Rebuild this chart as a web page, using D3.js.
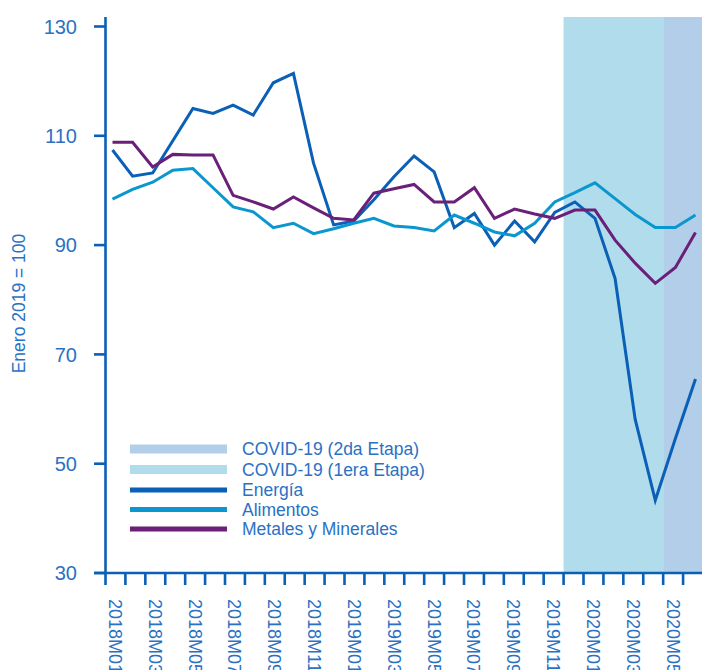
<!DOCTYPE html>
<html>
<head>
<meta charset="utf-8">
<script src="https://cdn.jsdelivr.net/npm/d3@7"></script>
<style>
  html,body{margin:0;padding:0;background:#fff;}
  svg{display:block;font-family:"Liberation Sans",Arial,Helvetica,sans-serif;}
</style>
</head>
<body>
<div id="chart"></div>
<script>
// months on the category axis
const months = [
  '2018M01','2018M02','2018M03','2018M04','2018M05','2018M06','2018M07','2018M08','2018M09','2018M10','2018M11','2018M12',
  '2019M01','2019M02','2019M03','2019M04','2019M05','2019M06','2019M07','2019M08','2019M09','2019M10','2019M11','2019M12',
  '2020M01','2020M02','2020M03','2020M04','2020M05','2020M06'
];
// index, Enero 2019 = 100
const energia = [107.4,102.6,103.2,109.1,115.0,114.1,115.6,113.8,119.7,121.4,105.0,93.7,94.4,98.3,102.5,106.3,
  103.4,93.2,95.8,90.0,94.4,90.6,96.0,97.9,94.9,83.9,58.1,43.3,54.6,65.5];
const alimentos = [98.4,100.2,101.5,103.7,104.0,100.5,97.0,96.1,93.2,94.0,92.1,93.0,94.0,94.9,93.5,93.2,
  92.6,95.5,94.0,92.4,91.7,94.0,97.9,99.6,101.4,98.5,95.6,93.2,93.2,95.5];
const metales = [108.8,108.8,104.3,106.6,106.5,106.5,99.1,97.9,96.6,98.8,96.8,94.9,94.6,99.5,100.3,101.1,
  97.9,97.9,100.5,94.9,96.6,95.7,94.9,96.4,96.4,90.9,86.7,83.0,85.9,92.3];
// shaded periods (first and last month covered)
const covidStages = [
  {name:'COVID-19 (1era Etapa)', from:'2019M12', to:'2020M04', color:'#b1dcec'},
  {name:'COVID-19 (2da Etapa)',  from:'2020M05', to:'2020M06', color:'#b3cee8'}
];
const yTicks = [30,50,70,90,110,130];

const series = [
  {name:'Energía', values:energia, color:'#0a5fb6'},
  {name:'Alimentos', values:alimentos, color:'#0a97cf'},
  {name:'Metales y Minerales', values:metales, color:'#6a1f78'}
];

const W=702, H=670;
const axisColor='#0a5fb6', textColor='#2a71c4';
const svg=d3.select('#chart').append('svg').attr('width',W).attr('height',H);

const xBand=d3.scaleBand().domain(months).range([105.5,703]).padding(0);
const xPt=d3.scalePoint().domain(months).range([112.5,695.5]);
const y=d3.scaleLinear().domain([30,130]).range([573,26.5]);
const plotTop=17;

// covid shading
svg.append('g').selectAll('rect').data(covidStages).join('rect')
  .attr('x',d=>xBand(d.from))
  .attr('y',plotTop)
  .attr('width',d=>xBand(d.to)+xBand.bandwidth()-xBand(d.from))
  .attr('height',y(30)-plotTop)
  .attr('fill',d=>d.color);

// lines
const line=d3.line().x((v,i)=>xPt(months[i])).y(v=>y(v));
svg.append('g').selectAll('path').data(series).join('path')
  .attr('d',d=>line(d.values))
  .attr('fill','none')
  .attr('stroke',d=>d.color)
  .attr('stroke-width',3)
  .attr('stroke-linejoin','miter');

// y axis
const yAxis=svg.append('g');
yAxis.append('line').attr('x1',105.5).attr('x2',105.5).attr('y1',plotTop).attr('y2',585)
  .attr('stroke',axisColor).attr('stroke-width',2.6);
yAxis.selectAll('line.tk').data(yTicks).join('line').attr('class','tk')
  .attr('x1',94).attr('x2',105.5).attr('y1',d=>y(d)).attr('y2',d=>y(d))
  .attr('stroke',axisColor).attr('stroke-width',2.6);
yAxis.selectAll('text').data(yTicks).join('text')
  .attr('x',77).attr('y',d=>y(d)).attr('dy','0.36em')
  .attr('text-anchor','end').attr('fill',textColor)
  .attr('font-size',20).text(d=>d);

svg.append('text')
  .attr('transform','translate(25,303.5) rotate(-90)')
  .attr('text-anchor','middle').attr('fill',textColor)
  .attr('font-size',17.5).text('Enero 2019 = 100');

// x axis
const xAxis=svg.append('g');
xAxis.append('line').attr('x1',94).attr('x2',W).attr('y1',y(30)).attr('y2',y(30))
  .attr('stroke',axisColor).attr('stroke-width',2.6);
const bounds=months.map(m=>xBand(m)).slice(1);
xAxis.selectAll('line.tk').data(bounds).join('line').attr('class','tk')
  .attr('x1',d=>d).attr('x2',d=>d).attr('y1',y(30)).attr('y2',585)
  .attr('stroke',axisColor).attr('stroke-width',2.6);
xAxis.selectAll('text').data(months.filter((m,i)=>i%2===0)).join('text')
  .attr('transform',d=>`translate(${xBand(d)+xBand.bandwidth()/2},599) rotate(90)`)
  .attr('dy','0.36em').attr('fill',textColor)
  .attr('font-size',18).text(d=>d);

// legend
const legendItems=[
  {name:covidStages[1].name, color:covidStages[1].color, h:9, y:449},
  {name:covidStages[0].name, color:covidStages[0].color, h:9, y:469.5},
  {name:series[0].name, color:series[0].color, h:5, y:490},
  {name:series[1].name, color:series[1].color, h:5, y:509.5},
  {name:series[2].name, color:series[2].color, h:5, y:529}
];
const lg=svg.append('g').selectAll('g').data(legendItems).join('g');
lg.append('rect').attr('x',130).attr('width',97)
  .attr('y',d=>d.y-d.h/2).attr('height',d=>d.h).attr('fill',d=>d.color);
lg.append('text').attr('x',242).attr('y',d=>d.y).attr('dy','0.36em')
  .attr('fill',textColor).attr('font-size',17.5).text(d=>d.name);
</script>
</body>
</html>
